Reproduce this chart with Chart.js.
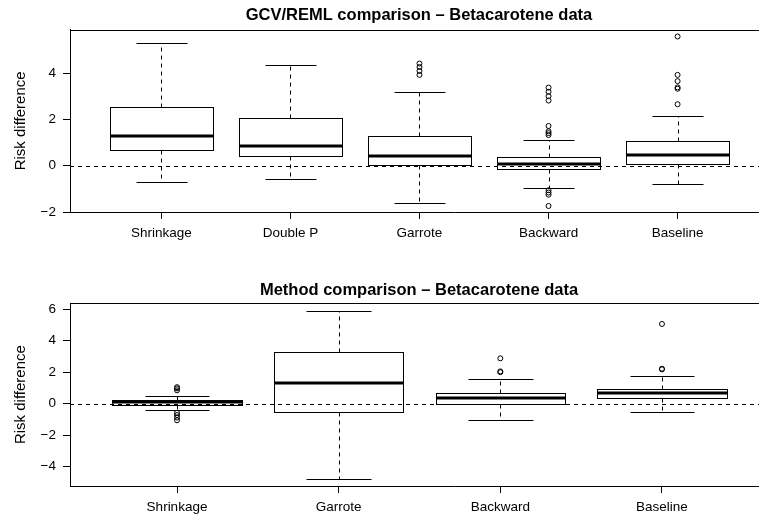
<!DOCTYPE html>
<html>
<head>
<meta charset="utf-8">
<script src="https://cdn.jsdelivr.net/npm/chart.js@4/dist/chart.umd.min.js"></script>
<style>
  html, body { margin: 0; padding: 0; background: #fff; overflow: hidden; }
  #wrap { position: relative; width: 759px; height: 518px; overflow: hidden; }
  canvas { position: absolute; left: 0; }
</style>
</head>
<body>
<div id="wrap">
  <canvas id="gcvChart" width="838" height="259" style="top:0"></canvas>
  <canvas id="methodChart" width="838" height="259" style="top:259px"></canvas>
</div>
<script>
// ---- GCV/REML comparison (upper panel) ----
const gcvCategories = ['Shrinkage', 'Double P', 'Garrote', 'Backward', 'Baseline'];
const gcvLowWhisker = [-0.71, -0.57, -1.60, -0.96, -0.78];
const gcvQ1         = [ 0.67,  0.43,  0.04, -0.16,  0.09];
const gcvMedian     = [ 1.28,  0.87,  0.42,  0.06,  0.45];
const gcvQ3         = [ 2.55,  2.07,  1.30,  0.38,  1.07];
const gcvHighWhisker= [ 5.33,  4.36,  3.19,  1.13,  2.17];
const gcvOutliers   = [
  [],
  [],
  [4.42, 4.27, 4.10, 3.93],
  [3.38, 3.20, 3.01, 2.82, 1.72, 1.49, 1.41, 1.33, -1.06, -1.16, -1.25, -1.74],
  [5.59, 3.93, 3.66, 3.39, 3.33, 2.66]
];
const gcvYTicks = [-2, 0, 2, 4];

// ---- Method comparison (lower panel) ----
const methodCategories = ['Shrinkage', 'Garrote', 'Backward', 'Baseline'];
const methodLowWhisker = [-0.40, -4.80, -1.02, -0.51];
const methodQ1         = [-0.08, -0.51, -0.02,  0.38];
const methodMedian     = [ 0.12,  1.29,  0.34,  0.68];
const methodQ3         = [ 0.23,  3.26,  0.70,  0.95];
const methodHighWhisker= [ 0.47,  5.90,  1.59,  1.76];
const methodOutliers   = [
  [1.05, 0.97, 0.85, -0.58, -0.72, -0.88, -1.05],
  [],
  [2.88, 2.05, 2.00],
  [5.06, 2.22, 2.18]
];
const methodYTicks = [-4, -2, 0, 2, 4, 6];

const FONT = '"Liberation Sans", Arial, Helvetica, sans-serif';
Chart.defaults.font.family = FONT;
Chart.defaults.color = '#000';

const BOX_HALF = 0.4;   // half box width, in category units
const CAP_HALF = 0.2;   // half whisker-cap width

const minus = v => (v < 0 ? '\u2212' + Math.abs(v) : String(v));
const crisp = p => Math.round(p) + 0.5;

function boxPlugin(stats) {
  return {
    id: 'boxes',
    beforeDatasetsDraw(chart) {
      const { ctx, chartArea: a, scales: { x, y } } = chart;
      const seg = (x1, y1, x2, y2) => {
        ctx.beginPath(); ctx.moveTo(x1, y1); ctx.lineTo(x2, y2); ctx.stroke();
      };
      ctx.save();
      ctx.strokeStyle = '#000';
      ctx.lineWidth = 1;
      // upper frame edge
      seg(a.left, crisp(a.top), a.right, crisp(a.top));

      stats.q1.forEach((q1, i) => {
        const c = i + 1;
        const xc = crisp(x.getPixelForValue(c));
        const xl = crisp(x.getPixelForValue(c - BOX_HALF));
        const xr = crisp(x.getPixelForValue(c + BOX_HALF));
        const cl = crisp(x.getPixelForValue(c - CAP_HALF));
        const cr = crisp(x.getPixelForValue(c + CAP_HALF));
        const yLo = crisp(y.getPixelForValue(stats.low[i]));
        const yQ1 = crisp(y.getPixelForValue(q1));
        const yMed = y.getPixelForValue(stats.med[i]);
        const yQ3 = crisp(y.getPixelForValue(stats.q3[i]));
        const yHi = crisp(y.getPixelForValue(stats.high[i]));

        // whiskers
        ctx.lineWidth = 1;
        ctx.setLineDash([4, 4]);
        seg(xc, yQ3, xc, yHi);
        seg(xc, yQ1, xc, yLo);
        ctx.setLineDash([]);
        // whisker caps
        seg(cl, yHi, cr, yHi);
        seg(cl, yLo, cr, yLo);
        // box
        ctx.strokeRect(xl, yQ3, xr - xl, yQ1 - yQ3);
        // median
        ctx.lineWidth = 3;
        seg(xl, Math.round(yMed), xr, Math.round(yMed));
      });

      // reference line at zero
      const y0 = crisp(y.getPixelForValue(0));
      ctx.lineWidth = 1;
      ctx.setLineDash([4, 4]);
      seg(a.left, y0, a.right, y0);
      ctx.restore();
    }
  };
}

function makeChart(id, cfg) {
  const points = [];
  cfg.outliers.forEach((list, i) => list.forEach(v => points.push({ x: i + 1, y: v })));
  return new Chart(document.getElementById(id), {
    type: 'scatter',
    data: {
      datasets: [{
        data: points,
        pointStyle: 'circle',
        pointRadius: 2.5,
        pointBorderWidth: 1,
        pointBorderColor: '#000',
        pointBackgroundColor: 'rgba(0,0,0,0)',
        showLine: false
      }]
    },
    options: {
      responsive: false,
      animation: false,
      events: [],
      devicePixelRatio: 1,
      layout: { padding: 0, autoPadding: false },
      plugins: {
        legend: { display: false },
        tooltip: { enabled: false },
        title: {
          display: true,
          text: cfg.title,
          color: '#000',
          font: { size: 16.5, weight: 'bold', family: FONT, lineHeight: 1.2 },
          padding: cfg.titlePadding
        }
      },
      scales: {
        x: {
          type: 'linear',
          min: cfg.xMin,
          max: cfg.xMax,
          afterBuildTicks: s => { s.ticks = cfg.categories.map((_, i) => ({ value: i + 1 })); },
          afterFit: s => { s.height = cfg.xAxisHeight; s.paddingLeft = 0; s.paddingRight = 0; },
          ticks: {
            autoSkip: false,
            maxRotation: 0,
            padding: 6,
            color: '#000',
            font: { size: 13.5, family: FONT },
            callback: v => cfg.categories[v - 1]
          },
          grid: { display: true, drawOnChartArea: false, drawTicks: true, tickLength: 7, color: '#000', lineWidth: 1 },
          border: { display: true, color: '#000', width: 1 }
        },
        y: {
          type: 'linear',
          min: cfg.yMin,
          max: cfg.yMax,
          afterBuildTicks: s => { s.ticks = cfg.yTicks.map(v => ({ value: v })); },
          afterFit: s => { s.width = 70; s.paddingTop = 0; s.paddingBottom = 0; },
          ticks: {
            padding: 7,
            color: '#000',
            font: { size: 13.5, family: FONT },
            callback: v => minus(v)
          },
          grid: { display: true, drawOnChartArea: false, drawTicks: true, tickLength: 7, color: '#000', lineWidth: 1 },
          border: { display: true, color: '#000', width: 1 },
          title: {
            display: true,
            text: 'Risk difference',
            color: '#000',
            font: { size: 15, family: FONT, lineHeight: 1.2 },
            padding: { top: 12, bottom: 0 }
          }
        }
      }
    },
    plugins: [boxPlugin({
      low: cfg.low, q1: cfg.q1, med: cfg.med, q3: cfg.q3, high: cfg.high
    })]
  });
}

makeChart('gcvChart', {
  title: 'GCV/REML comparison \u2013 Betacarotene data',
  titlePadding: { top: 6, bottom: 4 },
  categories: gcvCategories,
  low: gcvLowWhisker, q1: gcvQ1, med: gcvMedian, q3: gcvQ3, high: gcvHighWhisker,
  outliers: gcvOutliers,
  yTicks: gcvYTicks,
  xAxisHeight: 47,
  xMin: 0.292, xMax: 6.243,
  yMin: -2.0, yMax: 5.88
});

makeChart('methodChart', {
  title: 'Method comparison \u2013 Betacarotene data',
  titlePadding: { top: 22, bottom: 2.5 },
  categories: methodCategories,
  low: methodLowWhisker, q1: methodQ1, med: methodMedian, q3: methodQ3, high: methodHighWhisker,
  outliers: methodOutliers,
  yTicks: methodYTicks,
  xAxisHeight: 32,
  xMin: 0.338, xMax: 5.089,
  yMin: -5.22, yMax: 6.37
});
</script>
</body>
</html>
